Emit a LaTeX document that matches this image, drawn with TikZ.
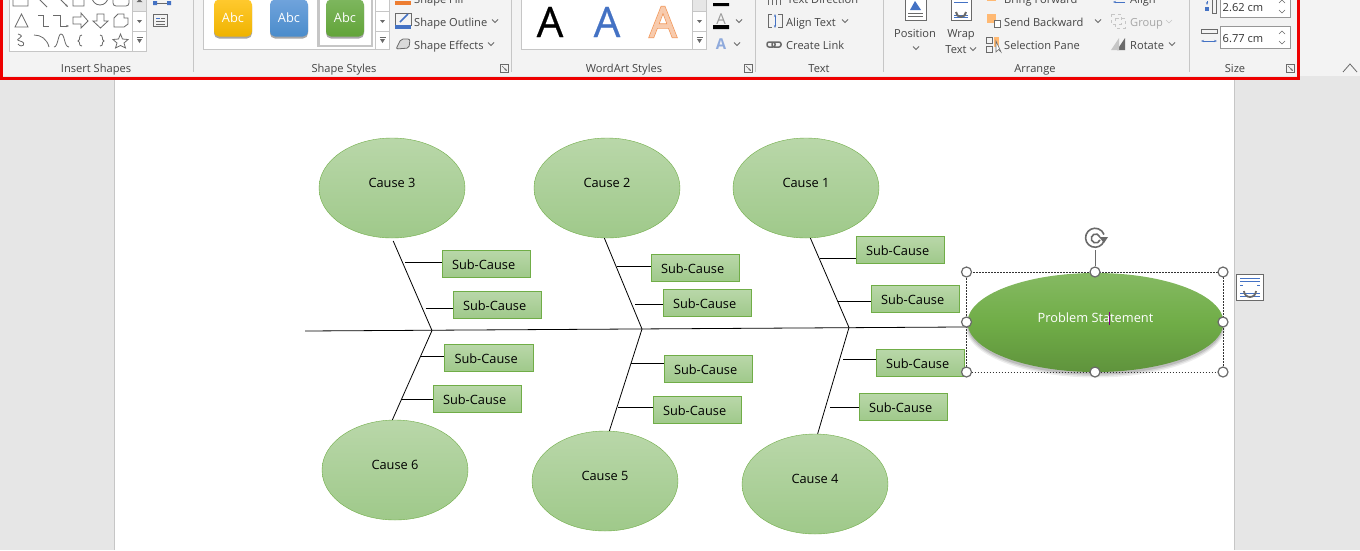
\documentclass[tikz,border=0pt]{standalone}
\usepackage{fontspec}
\setmainfont{Open Sans}
\usetikzlibrary{shapes.geometric,shadows,arrows.meta,calc}

\definecolor{ribbonbg}{HTML}{F3F3F3}
\definecolor{deskgray}{HTML}{E6E6E6}
\definecolor{ribbonred}{HTML}{EE0000}
\definecolor{grp}{HTML}{C6C6C6}
\definecolor{iconc}{HTML}{6A6A6A}
\definecolor{labelc}{HTML}{444444}
\definecolor{leafline}{HTML}{70AD47}
\definecolor{leaftop}{HTML}{B9D7A9}
\definecolor{leafbot}{HTML}{9FC98A}
\definecolor{officeblue}{HTML}{4472C4}
\definecolor{officeorange}{HTML}{ED7D31}
\definecolor{abcyellowtop}{HTML}{FFC92E}
\definecolor{abcyellowbot}{HTML}{EFB300}
\definecolor{abcbluetop}{HTML}{6FA3DC}
\definecolor{abcbluebot}{HTML}{4A8CCB}
\definecolor{abcgreentop}{HTML}{7DB65E}
\definecolor{abcgreenbot}{HTML}{62A438}

\newcommand{\chevdown}[2]{\draw[iconline] (#1-3,#2-1.5) -- (#1,#2+1.5) -- (#1+3,#2-1.5);}
\newcommand{\launcher}[2]{
  \draw[iconline, line width=0.6pt] (#1-4,#2-4) rectangle (#1+4,#2+4);
  \draw[iconline, line width=0.6pt, -{Stealth[length=3pt]}] (#1-2,#2-2) -- (#1+3,#2+3);
}

\begin{document}
\begin{tikzpicture}[x=1pt, y=-1pt,
  every node/.style={font=\fontsize{12.8}{14}\selectfont},
  ribtext/.style={font=\fontsize{11.1}{13}\selectfont, text=labelc, anchor=west, inner sep=0pt, text height=9pt, text depth=3pt},
  grouptext/.style={font=\fontsize{11.1}{13}\selectfont, text=labelc, inner sep=0pt, text height=9pt, text depth=3pt},
  iconline/.style={draw=iconc, line width=0.8pt},
  gallery/.style={draw=grp, fill=white, line width=0.8pt},
  grpsep/.style={draw=grp, line width=0.8pt},
  abc/.style={rounded corners=5pt, minimum width=38pt, minimum height=37pt, inner sep=0pt, text=white,
    drop shadow={shadow xshift=0pt, shadow yshift=-2pt, opacity=0.35, fill=black}},
  cause/.style={ellipse, draw=leafline, top color=leaftop, bottom color=leafbot, inner sep=0pt,
    minimum width=146pt, minimum height=100pt, text height=9pt, text depth=11pt},
  subcause/.style={rectangle, draw=leafline, top color=leaftop, bottom color=leafbot, line width=0.7pt,
    text width=69pt, inner xsep=9.7pt, inner ysep=0pt, minimum height=27.5pt, align=left, text height=12pt, text depth=2pt},
  bone/.style={draw=black, line width=0.8pt},
  handle/.style={circle, draw=iconc, fill=white, line width=1.2pt, minimum size=10pt, inner sep=0pt}]

\useasboundingbox (0,0) rectangle (1360,550);
\clip (0,0) rectangle (1360,550);

% window
\fill[deskgray] (0,0) rectangle (1360,550);
\fill[white] (114,80) rectangle (1234,550);
\draw[grp, line width=0.6pt] (114,80) -- (114,550) (1234,77) -- (1234,550);
\fill[ribbonbg] (0,0) rectangle (1360,76);
\draw[ribbonred, line width=3pt] (1,-3) -- (1,78.5) -- (1298.5,78.5) -- (1298.5,-3);

% group separators
\draw[grpsep] (193.5,0) -- (193.5,72) (511.5,0) -- (511.5,72) (755.5,0) -- (755.5,72)
  (883.5,0) -- (883.5,72) (1189.5,0) -- (1189.5,72);

% group names
\node[grouptext] (insertname) at (96,69) {Insert Shapes};
\node[grouptext] (stylesname) at (344,69) {Shape Styles};
\node[grouptext] (wordartname) at (624,69) {WordArt Styles};
\node[grouptext] (textname) at (819,69) {Text};
\node[grouptext] (arrangename) at (1035,69) {Arrange};
\node[grouptext] (sizename) at (1235,69) {Size};
\launcher{504}{68}
\launcher{748}{68}
\launcher{1290}{68}
\draw[iconline] (1343,72) -- (1350,64) -- (1357,72);

% insert shapes gallery
\draw[gallery] (9.5,-3) rectangle (146.5,51.5);
\fill[deskgray] (133,-3) rectangle (146,11);
\draw[grpsep] (132.5,-3) -- (132.5,51.5) (132.5,11.5) -- (146.5,11.5) (132.5,31.5) -- (146.5,31.5);
\fill[iconc] (136.5,2) -- (142.5,2) -- (139.5,-1) -- cycle;
\fill[iconc] (137,20) -- (142,20) -- (139.5,23) -- cycle;
\draw[iconc] (136.5,37) -- (142.5,37);
\fill[iconc] (137,39) -- (142,39) -- (139.5,43) -- cycle;
% row one
\draw[iconline] (13,-3) rectangle (28,6) (39,-1) -- (47,7);
\draw[iconline, -{Stealth[length=3pt]}] (60,-1) -- (68,7);
\draw[iconline] (73,-3) rectangle (84,6) (100,-3) circle (8);
\draw[iconline, rounded corners=3pt] (113,-6) rectangle (129,6);
% row two
\draw[iconline] (15,27) -- (21.5,14) -- (28,27) -- cycle;
\draw[iconline] (38,15) -- (43,15) -- (43,26) -- (49,26);
\draw[iconline, -{Stealth[length=3pt]}] (53,15) -- (60,15) -- (60,26) -- (69,26);
\draw[iconline] (73,17) -- (81,17) -- (81,13) -- (88,21) -- (81,28) -- (81,24) -- (73,24) -- cycle;
\draw[iconline] (97,14) -- (104,14) -- (104,21) -- (108,21) -- (100.5,28) -- (93,21) -- (97,21) -- cycle;
\draw[iconline] (114,27) -- (114,18) -- (118,14) -- (124,14) -- (124,18) -- (128,18) -- (128,24) -- (124,27) -- cycle;
% row three
\draw[iconline] (18,34) .. controls (28,37) and (12,39) .. (20,41) .. controls (28,43) and (22,49) .. (18,44);
\draw[iconline] (34,35) .. controls (41,35) and (47,39) .. (49,47);
\draw[iconline] (54,47) .. controls (58,47) and (58,34) .. (61,34) .. controls (65,34) and (64,47) .. (69,47);
\draw[iconline] (82,35) .. controls (78,35) and (81,40) .. (78,41) .. controls (81,42) and (78,46) .. (82,46);
\draw[iconline] (100,35) .. controls (104,35) and (101,40) .. (104,41) .. controls (101,42) and (104,46) .. (100,46);
\draw[iconline] (120.5,34) -- (122.5,39) -- (128,39.5) -- (124,43) -- (125.5,48) -- (120.5,45.5) -- (115.5,48) -- (117,43) -- (113,39.5) -- (118.5,39) -- cycle;
% beside the gallery
\draw[iconline] (156,3) -- (168,3);
\fill[officeblue] (153,1) rectangle (157,5) (167,1) rectangle (171,5);
\draw[iconline] (153.5,14.5) rectangle (167.5,26.5);
\draw[officeblue, line width=1pt] (156,18) -- (160,18);
\draw[iconc, line width=0.6pt] (161,18) -- (165,18) (156,21) -- (165,21) (156,24) -- (165,24);

% shape styles gallery
\draw[gallery] (203.5,-3) rectangle (389.5,49.5);
\fill[white, draw=grp, line width=2.5pt] (318.5,-4) rectangle (372,46);
\node[abc, top color=abcyellowtop, bottom color=abcyellowbot] (abcyellow) at (233,18) {Abc};
\node[abc, top color=abcbluetop, bottom color=abcbluebot] (abcblue) at (289,18) {Abc};
\node[abc, top color=abcgreentop, bottom color=abcgreenbot] (abcgreen) at (345,18) {Abc};
\draw[grpsep] (375.5,-3) -- (375.5,49.5) (375.5,11.5) -- (389.5,11.5) (375.5,31.5) -- (389.5,31.5);
\fill[iconc] (380,20) -- (385,20) -- (382.5,23) -- cycle;
\draw[iconc] (379.5,37) -- (385.5,37);
\fill[iconc] (380,39) -- (385,39) -- (382.5,43) -- cycle;
\fill[officeorange] (395,1) rectangle (411,5);
\draw[iconline] (395.5,13.5) rectangle (411,25);
\fill[officeblue] (395,25) rectangle (411,29);
\draw[officeblue, line width=1.6pt] (400,22) -- (408,14);
\draw[iconc, fill=white!85!black, rounded corners=2pt, line width=0.8pt] (396,49) -- (401,39) -- (410,39) -- (409,48) -- cycle;
\node[ribtext] (shapefill) at (414,0) {Shape Fill};
\node[ribtext] (shapeoutline) at (414,23) {Shape Outline};
\node[ribtext] (shapeeffects) at (414,46) {Shape Effects};
\chevdown{495}{21}
\chevdown{491}{44}

% wordart gallery
\draw[gallery] (521.5,-3) rectangle (706.5,49.5);
\fill[deskgray] (693,-3) rectangle (706,11);
\draw[grpsep] (692.5,-3) -- (692.5,49.5) (692.5,11.5) -- (706.5,11.5) (692.5,31.5) -- (706.5,31.5);
\fill[iconc] (697,20) -- (702,20) -- (699.5,23) -- cycle;
\draw[iconc] (696.5,37) -- (702.5,37);
\fill[iconc] (697,39) -- (702,39) -- (699.5,43) -- cycle;
\node[font=\fontsize{42}{44}\selectfont\addfontfeature{FakeBold=0.6}, inner sep=0pt] (artblack) at (550,22) {A};
\node[font=\fontsize{42}{44}\selectfont\addfontfeature{FakeBold=0.6}, inner sep=0pt, text=officeblue] (artblue) at (607,22) {A};
\node[font=\fontsize{42}{44}\selectfont\addfontfeature{FakeBold=5}, inner sep=0pt, text=officeorange!80!white] (artorangeedge) at (663,22) {A};
\node[font=\fontsize{42}{44}\selectfont\addfontfeature{FakeBold=1.5}, inner sep=0pt, text=officeorange!40!white] (artorange) at (663,22) {A};
\fill[black] (713,3) rectangle (729,6) (713,25) rectangle (729,29);
\node[font=\fontsize{15}{16}\selectfont, text=white!60!black, inner sep=0pt] (artline) at (721,19) {A};
\node[font=\fontsize{15}{16}\selectfont\bfseries, text=officeblue!60!white, inner sep=0pt] (arteffect) at (721,44) {A};
\chevdown{739}{21}
\chevdown{737}{44}

% text group
\draw[iconc, line width=0.6pt] (768,0) -- (768,5) (772,0) -- (772,5) (776,0) -- (776,5) (780,0) -- (780,5);
\node[ribtext] (textdirection) at (787,0) {Text Direction};
\draw[iconline] (772,14) -- (768,14) -- (768,27) -- (772,27) (778,14) -- (782,14) -- (782,27) -- (778,27);
\draw[officeblue, line width=1pt, {Stealth[length=3pt]}-{Stealth[length=3pt]}] (775,14) -- (775,28);
\node[ribtext] (aligntext) at (786,23) {Align Text};
\chevdown{845}{21}
\draw[iconc, line width=1.5pt, rounded corners=2pt] (767,42) rectangle (775,47) (772,42) rectangle (781,47);
\node[ribtext] (createlink) at (786,46) {Create Link};

% arrange group
\draw[iconc, fill=white, line width=0.7pt] (905,-3) rectangle (926,20);
\fill[officeblue] (910,10) -- (915,1) -- (921,10) -- cycle;
\draw[iconc, line width=0.6pt] (908,13) -- (923,13) (908,16) -- (923,16);
\node[grouptext] (positionlabel) at (915,34) {Position};
\chevdown{916}{48}
\draw[iconc, fill=white, line width=0.7pt] (951,-3) rectangle (971,20);
\draw[officeblue, line width=0.7pt] (954,2) -- (968,2) (954,15) -- (968,15) (954,17.5) -- (968,17.5);
\draw[iconc, line width=2pt] (956,12) arc[start angle=180, end angle=0, radius=5];
\node[grouptext] (wraplabel) at (961,34) {Wrap};
\node[grouptext] (textlabel) at (956,50) {Text};
\chevdown{973}{49}
\fill[orange!55!white] (987,-4) rectangle (996,1);
\fill[orange!55!white] (987,14) rectangle (996,23);
\draw[iconc, fill=white, line width=0.8pt] (994,20) rectangle (1000,27);
\node[ribtext] (bringforward) at (1004,0) {Bring Forward};
\node[ribtext] (sendbackward) at (1004,23) {Send Backward};
\chevdown{1098}{21}
\draw[iconc, line width=0.7pt] (986,37) rectangle (992,43) (986,46) rectangle (992,52);
\fill[orange!55!white] (994,37) rectangle (999,47);
\draw[iconc, fill=white, line width=0.6pt] (996,41) -- (996,52) -- (998.5,49.5) -- (1001,52) -- cycle;
\node[ribtext] (selectionpane) at (1004,46) {Selection Pane};
\draw[officeblue, line width=1pt, -{Stealth[length=3pt]}] (1125,2) -- (1113,2);
\node[ribtext] (alignlabel) at (1130,0) {Align};
\draw[grp, line width=0.8pt, dashed] (1111,14) rectangle (1121,24) (1115,18) rectangle (1125,28);
\node[ribtext, text=white!65!black] (grouplabel) at (1130,23) {Group};
\draw[grp] (1166,20) -- (1169,23) -- (1172,20);
\fill[iconc] (1117,50) -- (1125,38) -- (1125,50) -- cycle;
\fill[grp] (1111,50) -- (1119,38) -- (1119,50) -- cycle;
\node[ribtext] (rotatelabel) at (1130,46) {Rotate};
\chevdown{1172}{44}

% size group
\draw[iconc, line width=0.7pt] (1212,-3) rectangle (1216,13);
\fill[officeblue] (1205,7) rectangle (1209,11);
\draw[officeblue, line width=0.8pt, -{Stealth[length=3pt]}] (1207,1) -- (1207,5);
\draw[iconc, line width=0.7pt] (1201,29) rectangle (1217,33);
\draw[officeblue, line width=0.8pt, {Stealth[length=3pt]}-{Stealth[length=3pt]}] (1201,41) -- (1217,41);
\draw[gallery, draw=iconc!70!white] (1220.5,-6) rectangle (1290.5,17.5);
\draw[gallery, draw=iconc!70!white] (1220.5,26.5) rectangle (1290.5,48.5);
\node[ribtext, text=black!80!white] (heightvalue) at (1222.5,8) {2.62 cm};
\node[ribtext, text=black!80!white] (widthvalue) at (1222.5,39) {6.77 cm};
\draw[iconc, line width=0.5pt] (1279,3) -- (1282,0) -- (1285,3) (1279,10) -- (1282,13) -- (1285,10)
  (1279,34) -- (1282,31) -- (1285,34) (1279,41) -- (1282,44) -- (1285,41);

% fishbone
\node[cause] (cause3) at (392,188) {Cause 3};
\node[cause] (cause2) at (607,188) {Cause 2};
\node[cause] (cause1) at (806,188) {Cause 1};
\node[cause] (cause6) at (395,470) {Cause 6};
\node[cause] (cause5) at (605,481) {Cause 5};
\node[cause] (cause4) at (815,484) {Cause 4};

\node[subcause] (sub31) at (486.5,264) {Sub-Cause};
\node[subcause] (sub32) at (497.5,305) {Sub-Cause};
\node[subcause] (sub61) at (489,358) {Sub-Cause};
\node[subcause] (sub62) at (477.5,399) {Sub-Cause};
\node[subcause] (sub21) at (695.5,268) {Sub-Cause};
\node[subcause] (sub22) at (707.5,303) {Sub-Cause};
\node[subcause] (sub51) at (708.5,369) {Sub-Cause};
\node[subcause] (sub52) at (697.5,410) {Sub-Cause};
\node[subcause] (sub11) at (900.5,250) {Sub-Cause};
\node[subcause] (sub12) at (915.5,299) {Sub-Cause};
\node[subcause] (sub41) at (920.5,363) {Sub-Cause};
\node[subcause] (sub42) at (903.5,407) {Sub-Cause};

% soft shadow under the problem shape
\fill[black, opacity=0.07] (1095.5,326) ellipse [x radius=130, y radius=51.5];
\fill[black, opacity=0.09] (1095.5,325.5) ellipse [x radius=129, y radius=50.5];
\fill[black, opacity=0.12] (1095.5,325) ellipse [x radius=128, y radius=49.5];
\node[ellipse, top color=leafline!85!white, bottom color=leafline!85!black, middle color=leafline,
  minimum width=256pt, minimum height=99pt, inner sep=0pt, text=white, text height=9pt, text depth=9pt] (problem) at (1095.5,322.5) {Problem Statement};

\coordinate (tail) at (305,331);
\coordinate (j3) at (432,330.5);
\coordinate (j2) at (642,329);
\coordinate (j1) at (849,327.5);
\coordinate (t31) at (405,262.5);
\coordinate (t32) at (425.5,308.5);
\coordinate (t61) at (420,356);
\coordinate (t62) at (401,399);
\coordinate (t21) at (617,266);
\coordinate (t22) at (635,304);
\coordinate (t51) at (631,363);
\coordinate (t52) at (618,407);
\coordinate (t11) at (820,258);
\coordinate (t12) at (838,301);
\coordinate (t41) at (843,359);
\coordinate (t42) at (830,407);

\path[bone]
  (tail) edge (problem.182)
  (cause3.south) edge[shorten <=3pt] (j3)
  (cause6.93) edge (j3)
  (cause2.-93) edge (j2)
  (cause5.85) edge (j2)
  (cause1.-85) edge (j1)
  (cause4.87) edge (j1)
  (t31) edge (t31 -| sub31.west)
  (t32) edge (t32 -| sub32.west)
  (t61) edge (t61 -| sub61.west)
  (t62) edge (t62 -| sub62.west)
  (t21) edge (t21 -| sub21.west)
  (t22) edge (t22 -| sub22.west)
  (t51) edge (t51 -| sub51.west)
  (t52) edge (t52 -| sub52.west)
  (t11) edge (t11 -| sub11.west)
  (t12) edge (t12 -| sub12.west)
  (t41) edge (t41 -| sub41.west)
  (t42) edge (t42 -| sub42.west)
;

% selection frame
\draw[black!80!white, dash pattern=on 1.5pt off 1.5pt, line width=0.6pt] (966.5,272) rectangle (1223,372);
\draw[violet, line width=0.6pt] (1109,312) -- (1109,325);
\node[handle] (hnw) at (966.5,272) {};
\node[handle] (hn) at (1095,272) {};
\node[handle] (hne) at (1223,272) {};
\node[handle] (hw) at (966.5,322) {};
\node[handle] (he) at (1223,322) {};
\node[handle] (hsw) at (966.5,372) {};
\node[handle] (hs) at (1095,372) {};
\node[handle] (hse) at (1223,372) {};
\coordinate (grip) at (1095,250);
\draw[iconc, line width=1pt] (hn) -- (grip);
\draw[iconc, line width=1.6pt] (1104,241) arc[start angle=20, end angle=340, radius=9.5];
\draw[iconc, line width=1.6pt] (1100,240) arc[start angle=20, end angle=340, radius=4.5];
\fill[iconc] (1099,237) -- (1108,237) -- (1104,243) -- cycle;

% layout options
\draw[iconc, fill=white, line width=1pt] (1236.5,274) rectangle (1263.5,300);
\draw[officeblue, line width=0.7pt] (1240,278) -- (1260,278) (1240,281) -- (1260,281) (1240,293) -- (1260,293) (1240,296) -- (1260,296);
\draw[officeblue, line width=0.7pt] (1240,285) -- (1243,285) (1257,285) -- (1260,285);
\draw[iconc, line width=1.8pt] (1244,291) arc[start angle=180, end angle=0, radius=6];
\end{tikzpicture}
\end{document}
